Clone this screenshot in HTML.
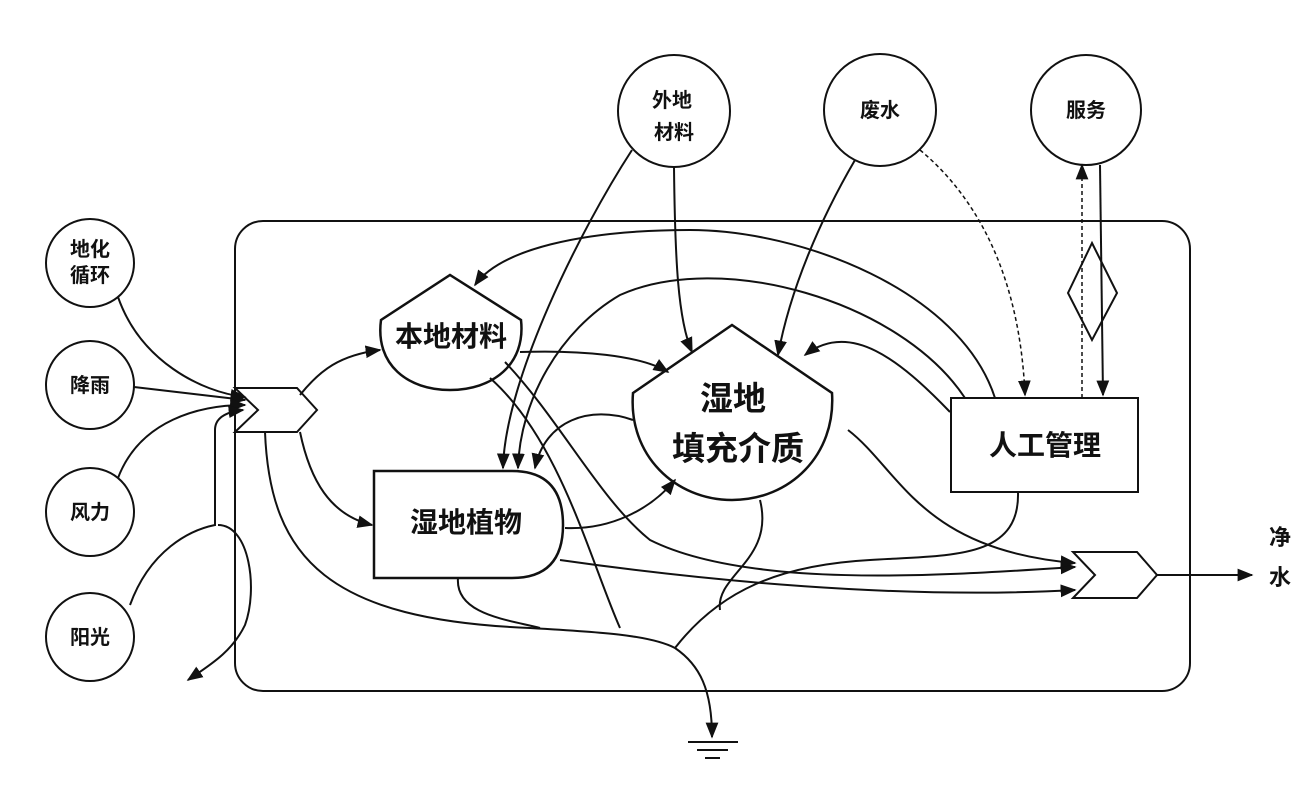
<!DOCTYPE html>
<html><head><meta charset="utf-8"><style>
html,body{margin:0;padding:0;background:#fff;}
svg{display:block;}
text{font-family:"Liberation Sans","Noto Sans CJK SC",sans-serif;fill:#111;font-weight:bold;}
</style></head><body>
<svg width="1315" height="793" viewBox="0 0 1315 793" xmlns="http://www.w3.org/2000/svg">
<defs>
<marker id="b" viewBox="0 0 10 10" refX="9" refY="5" markerWidth="16" markerHeight="16" orient="auto" markerUnits="userSpaceOnUse"><path d="M0,1 L10,5 L0,9 Z" fill="#111"/></marker>
</defs>
<g fill="none" stroke="#111" stroke-width="2">
<rect x="235" y="221" width="955" height="470" rx="28"/>
<circle cx="90" cy="263" r="44"/><circle cx="90" cy="385" r="44"/><circle cx="90" cy="512" r="44"/><circle cx="90" cy="637" r="44"/>
<circle cx="674" cy="111" r="56"/><circle cx="880" cy="110" r="56"/><circle cx="1086" cy="110" r="55"/>
<path d="M235,388 L297,388 L317,410 L297,432 L235,432 L258,410 Z" fill="#fff"/>
<path d="M1073,552 L1137,552 L1157,575 L1137,598 L1073,598 L1095,575 Z"/>
<path d="M1092,243 L1117,293 L1092,340 L1068,293 Z"/>
<rect x="951" y="398" width="187" height="94"/>
<path d="M374,471 L512,471 Q563,471 563,525 Q563,578 512,578 L374,578 Z" stroke-width="2.5"/>
<path d="M381,320 L450,275 L521,320 C526,365 492,390 450,390 C408,390 375,365 381,320 Z" stroke-width="2.5"/>
<path d="M633,393 L732,325 L832,393 C836,455 790,500 732,500 C675,500 628,455 633,393 Z" stroke-width="2.5"/>
<path d="M688,742 L738,742 M697,750 L728,750 M705,758 L720,758"/>
<path d="M118,297 C140,360 200,392 245,397" marker-end="url(#b)"/>
<path d="M134,387 L245,400" marker-end="url(#b)"/>
<path d="M118,478 C140,420 200,405 245,405" marker-end="url(#b)"/>
<path d="M130,605 C150,550 190,530 215,525 L215,430 C215,418 225,412 243,410" marker-end="url(#b)"/>
<path d="M218,525 C250,525 258,590 245,625 C232,652 210,665 188,680" marker-end="url(#b)"/>
<path d="M300,395 C320,370 340,355 380,350" marker-end="url(#b)"/>
<path d="M300,432 C310,480 330,515 372,525" marker-end="url(#b)"/>
<path d="M265,432 C270,560 330,620 530,628 C600,632 650,635 675,648 C700,665 712,690 712,737" marker-end="url(#b)"/>
<path d="M520,352 C580,350 640,355 668,372" marker-end="url(#b)"/>
<path d="M490,378 C560,440 590,560 620,628"/>
<path d="M505,362 C560,420 600,500 650,540 C750,590 950,575 1075,567" marker-end="url(#b)"/>
<path d="M632,150 C580,230 505,380 503,468" marker-end="url(#b)"/>
<path d="M674,167 C675,260 678,320 692,352" marker-end="url(#b)"/>
<path d="M965,398 C900,300 720,250 620,295 C560,330 520,400 518,468" marker-end="url(#b)"/>
<path d="M633,420 C590,405 545,420 535,468" marker-end="url(#b)"/>
<path d="M995,398 C960,290 800,230 690,230 C580,230 500,250 475,285" marker-end="url(#b)"/>
<path d="M855,160 C820,220 790,290 778,355" marker-end="url(#b)"/>
<path d="M920,150 C980,200 1020,280 1025,395" stroke-dasharray="4,3" stroke-width="1.5" marker-end="url(#b)"/>
<path d="M950,412 C900,360 850,320 805,355" marker-end="url(#b)"/>
<path d="M1082,398 L1082,165" stroke-dasharray="4,3" stroke-width="1.5" marker-end="url(#b)"/>
<path d="M1100,165 L1103,395" marker-end="url(#b)"/>
<path d="M565,528 C610,530 650,510 675,480" marker-end="url(#b)"/>
<path d="M560,560 C700,580 900,600 1075,590" marker-end="url(#b)"/>
<path d="M848,430 C900,470 920,550 1075,563" marker-end="url(#b)"/>
<path d="M1018,492 C1020,560 950,555 870,560 C780,565 720,590 675,648"/>
<path d="M760,500 C775,560 715,575 720,610"/>
<path d="M458,578 C455,615 510,620 540,628"/>
<path d="M1157,575 L1252,575" marker-end="url(#b)"/>
</g>
<g font-size="20" text-anchor="middle">
<text x="90" y="256">地化</text><text x="90" y="282">循环</text>
<text x="90" y="392">降雨</text><text x="90" y="519">风力</text><text x="90" y="644">阳光</text>
<text x="672" y="107">外地</text><text x="674" y="139">材料</text>
<text x="880" y="117">废水</text><text x="1086" y="117">服务</text>
<text x="1280" y="545" font-size="22">净</text><text x="1280" y="585" font-size="22">水</text>
</g>
<g text-anchor="middle">
<text x="451" y="346" font-size="28">本地材料</text>
<text x="466" y="532" font-size="28">湿地植物</text>
<text x="733" y="410" font-size="33">湿地</text>
<text x="738" y="460" font-size="33">填充介质</text>
<text x="1045" y="455" font-size="28">人工管理</text>
</g>
</svg>
</body></html>
